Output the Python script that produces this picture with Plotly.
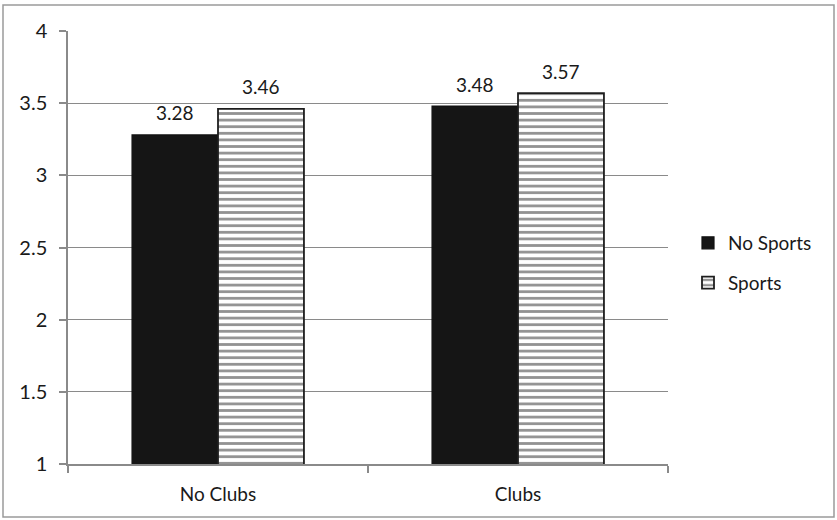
import plotly.graph_objects as go

categories = ["No Clubs", "Clubs"]
no_sports = [3.28, 3.48]
sports = [3.46, 3.57]
series_names = ["No Sports", "Sports"]
y_ticks = [1, 1.5, 2, 2.5, 3, 3.5, 4]
y_tick_labels = ["1", "1.5", "2", "2.5", "3", "3.5", "4"]

W, H = 837, 520
L, R, T, B = 68, 169, 31, 56
pw, ph = W - L - R, H - T - B

FONT = "Lato, Carlito, Calibri, sans-serif"
TXT = "#1a1a1a"
GRID = "#8a8a8a"

fig = go.Figure()
fig.add_trace(go.Bar(
    x=categories, y=no_sports, name=series_names[0], legendgroup="a",
    marker=dict(color="#151515", line=dict(color="#111111", width=1.2)),
    base=0,
))
fig.add_trace(go.Bar(
    x=categories, y=sports, name=series_names[1], legendgroup="b",
    marker=dict(color="white", line=dict(color="#1e1e1e", width=1.8),
                pattern=dict(shape="-", size=6.6, solidity=0.42,
                             fgcolor="#262626", bgcolor="white")),
    base=0,
))

# data labels
for vals, sh in ((no_sports, -43), (sports, 43)):
    for c, v in zip(categories, vals):
        fig.add_annotation(x=c, y=v, text=f"{v:.2f}", showarrow=False,
                           xshift=sh, yshift=22, yanchor="middle",
                           font=dict(family=FONT, size=19, color=TXT))

# outer border
fig.add_shape(type="rect", xref="paper", yref="paper",
              x0=(3 - L) / pw, x1=(834 - L) / pw,
              y0=(H - B - 517) / ph, y1=(H - B - 5) / ph,
              line=dict(color="#9a9a9a", width=1.5), layer="below")

fig.update_layout(
    width=W, height=H,
    margin=dict(l=L, r=R, t=T, b=B, autoexpand=False),
    paper_bgcolor="white", plot_bgcolor="white",
    barmode="group", bargap=0.427, bargroupgap=0,
    font=dict(family=FONT, size=19, color=TXT),
    showlegend=True,
    legend=dict(x=(688 - L) / pw, y=(H - B - 263) / ph, xanchor="left",
                yanchor="middle", font=dict(family=FONT, size=19, color=TXT),
                tracegroupgap=12, itemwidth=30, bgcolor="rgba(0,0,0,0)"),
    xaxis=dict(type="category", showline=True, linecolor=GRID, linewidth=1.5,
               ticks="outside", tickson="boundaries", ticklen=7,
               tickcolor=GRID, tickwidth=1.5, showgrid=False,
               ticklabelstandoff=12,
               tickfont=dict(family=FONT, size=19, color=TXT)),
    yaxis=dict(range=[1, 4], tickvals=y_ticks, ticktext=y_tick_labels,
               showline=True, linecolor=GRID, linewidth=1.5,
               ticks="outside", ticklen=7, tickcolor=GRID, tickwidth=1.5,
               showgrid=True, gridcolor=GRID, gridwidth=1.2,
               ticklabelstandoff=8,
               zeroline=False, tickfont=dict(family=FONT, size=20, color=TXT)),
)

fig.write_html("out.html", config={"displayModeBar": False},
               post_script="document.body.style.margin='0';document.body.style.padding='0';")
